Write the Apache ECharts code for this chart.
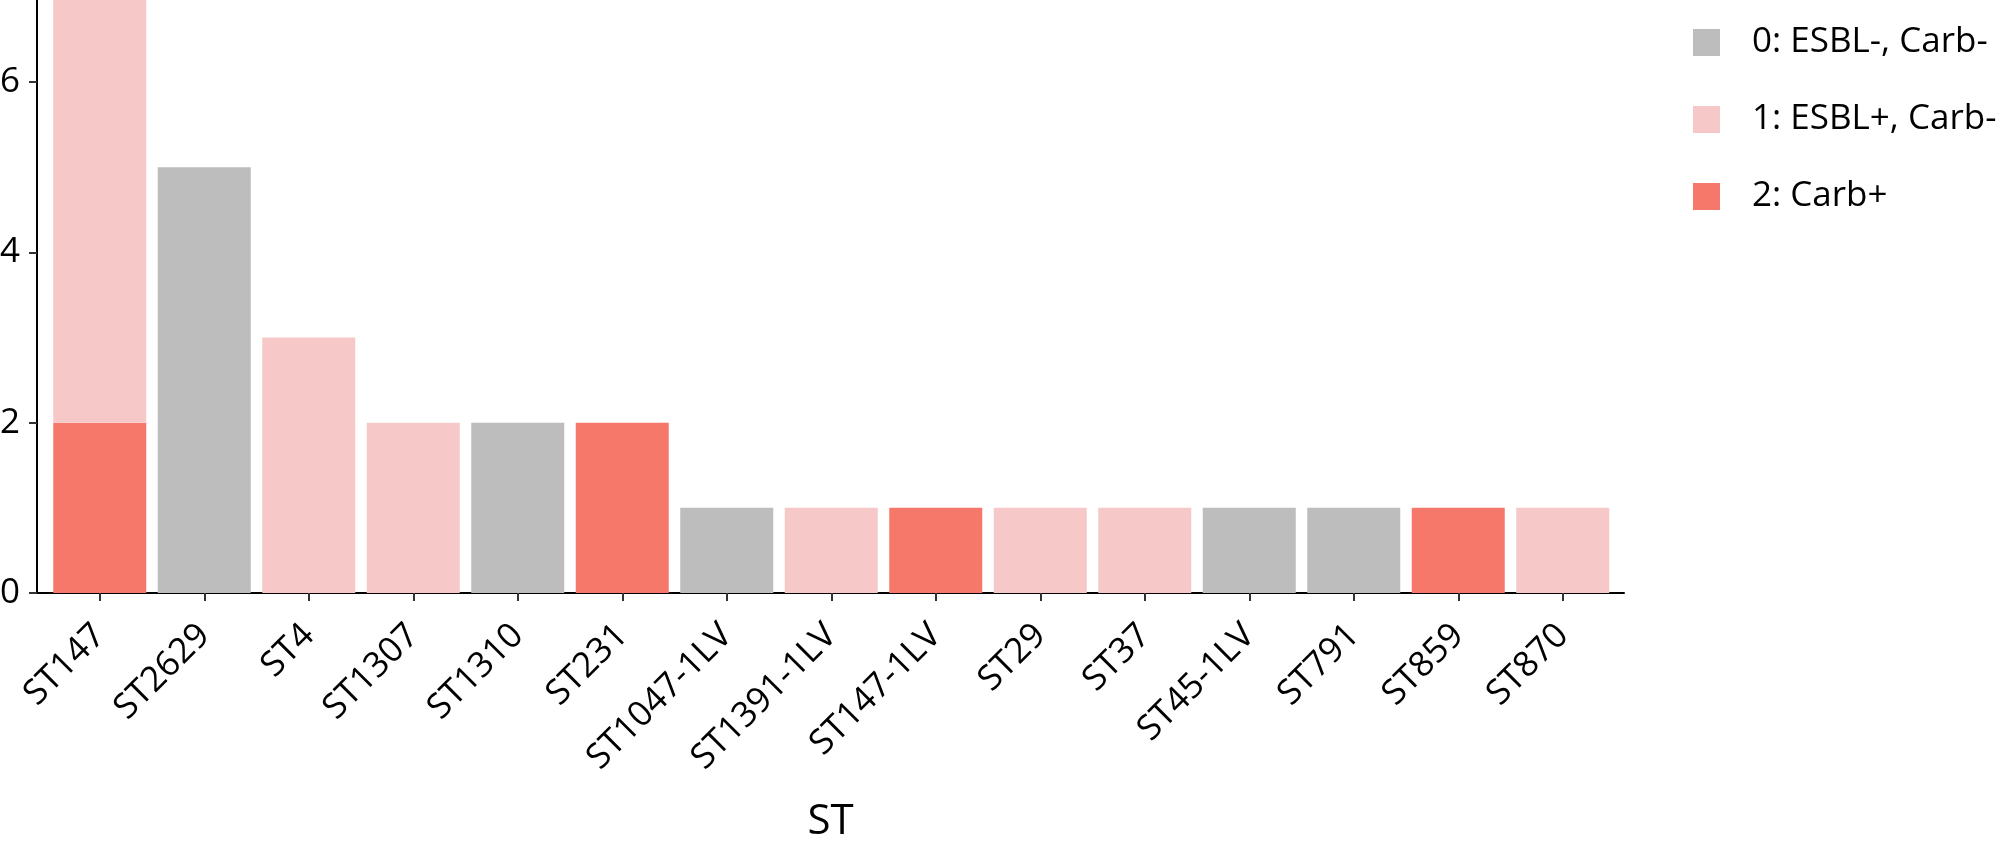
<!DOCTYPE html>
<html>
<head>
<meta charset="utf-8">
<script src="https://cdn.jsdelivr.net/npm/echarts@6/dist/echarts.min.js"></script>
<style>
html,body{margin:0;padding:0;background:#fff;}
#chart{width:2007px;height:841px;}
</style>
</head>
<body>
<div id="chart"></div>
<script>
const categories = ['ST147','ST2629','ST4','ST1307','ST1310','ST231','ST1047-1LV','ST1391-1LV','ST147-1LV','ST29','ST37','ST45-1LV','ST791','ST859','ST870'];
const carbPos  = [2,0,0,0,0,2,0,0,1,0,0,0,0,1,0];
const esblPos  = [5,0,3,2,0,0,0,1,0,1,1,0,0,0,1];
const esblNeg  = [0,5,0,0,2,0,1,0,0,0,0,1,1,0,0];
const seriesNames = ['0: ESBL-, Carb-','1: ESBL+, Carb-','2: Carb+'];
const yTicks = [0,2,4,6];

const FONT = '"Open Sans", "Noto Sans", sans-serif';
const chart = echarts.init(document.getElementById('chart'), null, {renderer:'canvas'});
chart.setOption({
  animation:false,
  backgroundColor:'#ffffff',
  textStyle:{fontFamily:FONT},
  grid:[
    {left:47.5,right:392,top:-3,bottom:248,containLabel:false,outerBoundsMode:'none'},
    {left:37,right:383,top:-3,bottom:248,containLabel:false,outerBoundsMode:'none'}
  ],
  legend:{
    orient:'vertical',left:1693,top:25,padding:0,
    data:seriesNames,
    icon:'rect',itemWidth:27,itemHeight:27,itemGap:42,
    textStyle:{fontFamily:FONT,fontSize:35,color:'#000',lineHeight:35,padding:[0,0,0,27]}
  },
  xAxis:[
    {
      type:'category',data:categories,gridIndex:0,
      axisLine:{show:false},
      axisTick:{show:true,alignWithLabel:true,length:8,lineStyle:{color:'#333',width:2}},
      axisLabel:{rotate:45,margin:37,fontFamily:FONT,fontSize:35,color:'#000',interval:0}
    },
    {
      type:'value',gridIndex:1,min:0,max:1,
      name:'ST',nameLocation:'middle',nameGap:208,
      nameTextStyle:{fontFamily:FONT,fontSize:42,color:'#000'},
      axisLine:{show:true,lineStyle:{color:'#000',width:2}},
      axisTick:{show:false},axisLabel:{show:false},splitLine:{show:false}
    }
  ],
  yAxis:[
    {type:'value',gridIndex:0,min:0,max:7,show:false,splitLine:{show:false}},
    {
      type:'value',gridIndex:1,min:0,max:7,interval:2,
      axisLine:{show:true,lineStyle:{color:'#000',width:2}},
      axisTick:{show:true,length:8,lineStyle:{color:'#333',width:2}},
      splitLine:{show:false},
      axisLabel:{margin:17,fontFamily:FONT,fontSize:35,color:'#000',
        formatter:function(v){return yTicks.indexOf(v)>=0?String(v):'';}}
    }
  ],
  series:[
    {name:seriesNames[2],type:'bar',stack:'s',xAxisIndex:0,yAxisIndex:0,data:carbPos,barCategoryGap:'11%',itemStyle:{color:'#f6786b'}},
    {name:seriesNames[1],type:'bar',stack:'s',xAxisIndex:0,yAxisIndex:0,data:esblPos,barCategoryGap:'11%',itemStyle:{color:'#f7c8c8'}},
    {name:seriesNames[0],type:'bar',stack:'s',xAxisIndex:0,yAxisIndex:0,data:esblNeg,barCategoryGap:'11%',itemStyle:{color:'#bdbdbd'}}
  ]
});
</script>
</body>
</html>
